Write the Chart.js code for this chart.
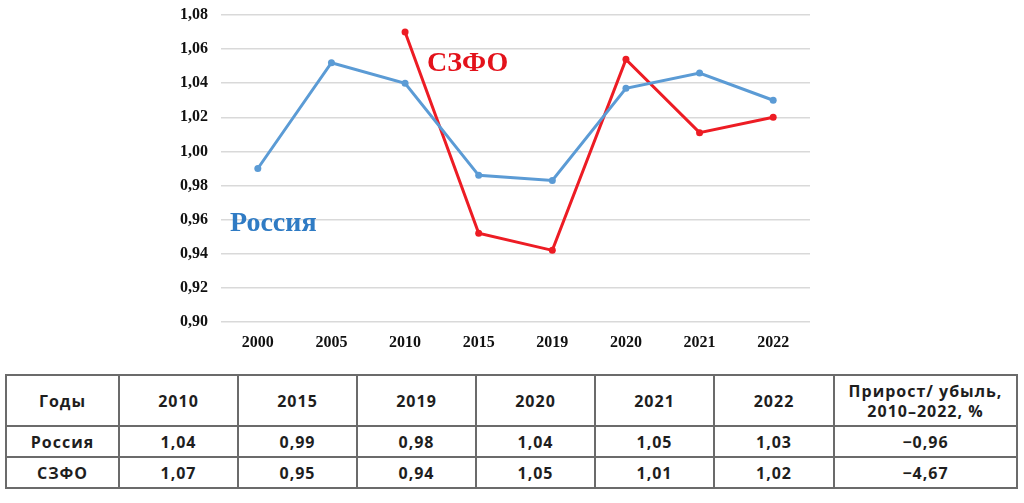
<!DOCTYPE html>
<html>
<head>
<meta charset="utf-8">
<script src="https://cdn.jsdelivr.net/npm/chart.js@4.4.0/dist/chart.umd.min.js"></script>
<style>
  html, body { margin: 0; padding: 0; background: #fff; }
  body { width: 1024px; height: 503px; position: relative; overflow: hidden; }
  #wrap { position: absolute; left: 0; top: 0; width: 1024px; height: 362px; }
  table {
    position: absolute; left: 5px; top: 374px; width: 1011px;
    border-collapse: collapse; table-layout: fixed;
    font-family: "Open Sans", "Noto Sans", sans-serif; font-weight: 700;
    font-size: 16px; color: #1e1e1e; letter-spacing: 1px;
  }
  td { border: 2px solid #6b6b6b; text-align: center; padding: 0; }
  tr.head td { height: 49px; line-height: 20px; }
  tr.row td { height: 29px; }
</style>
</head>
<body>
<div id="wrap"><canvas id="c"></canvas></div>
<table id="tbl"></table>
<script>
// chart data
var years = ["2000", "2005", "2010", "2015", "2019", "2020", "2021", "2022"];
var russia = [0.990, 1.052, 1.040, 0.986, 0.983, 1.037, 1.046, 1.030];
var szfo = [null, null, 1.070, 0.952, 0.942, 1.054, 1.011, 1.020];
var yTicks = [0.90, 0.92, 0.94, 0.96, 0.98, 1.00, 1.02, 1.04, 1.06, 1.08];

// table data
var tableYears = ["2010", "2015", "2019", "2020", "2021", "2022"];
var tableRussia = ["1,04", "0,99", "0,98", "1,04", "1,05", "1,03", "−0,96"];
var tableSzfo = ["1,07", "0,95", "0,94", "1,05", "1,01", "1,02", "−4,67"];

var blue = "#5b9bd5", red = "#ed1c24";

// build table
var colW = [113, 119, 119, 119, 119, 119, 120, 183];
var html = "<colgroup>" + colW.map(function (w) { return '<col style="width:' + w + 'px">'; }).join("") + "</colgroup>";
html += '<tr class="head"><td>Годы</td>' + tableYears.map(function (y) { return "<td>" + y + "</td>"; }).join("") +
  "<td>Прирост/ убыль,<br>2010–2022, %</td></tr>";
html += '<tr class="row"><td>Россия</td>' + tableRussia.map(function (v) { return "<td>" + v + "</td>"; }).join("") + "</tr>";
html += '<tr class="row"><td>СЗФО</td>' + tableSzfo.map(function (v) { return "<td>" + v + "</td>"; }).join("") + "</tr>";
document.getElementById("tbl").innerHTML = html;

// series name labels drawn on the chart
var seriesLabels = {
  id: "seriesLabels",
  afterDatasetsDraw: function (chart) {
    var ctx = chart.ctx;
    ctx.save();
    ctx.font = "bold 28px 'Liberation Serif', 'Times New Roman', serif";
    ctx.textBaseline = "alphabetic";
    ctx.textAlign = "left";
    ctx.fillStyle = "#e3121b";
    ctx.fillText("СЗФО", 427, 71);
    ctx.fillStyle = "#2f7bc4";
    ctx.fillText("Россия", 230, 231);
    ctx.restore();
  }
};

var serif = "'Liberation Serif', 'Times New Roman', serif";

new Chart(document.getElementById("c"), {
  type: "line",
  data: {
    labels: years,
    datasets: [
      {
        label: "Россия", data: russia, borderColor: blue, backgroundColor: blue,
        borderWidth: 3, pointRadius: 3.5, pointBackgroundColor: blue, pointBorderWidth: 0, tension: 0
      },
      {
        label: "СЗФО", data: szfo, borderColor: red, backgroundColor: red,
        borderWidth: 3, pointRadius: 3.5, pointBackgroundColor: red, pointBorderWidth: 0, tension: 0
      }
    ]
  },
  options: {
    responsive: true, maintainAspectRatio: false, animation: false,
    layout: { padding: { left: 0, right: 214, top: 15, bottom: 0 } },
    plugins: { legend: { display: false }, tooltip: { enabled: false } },
    scales: {
      x: {
        offset: true,
        grid: { display: false, drawTicks: false },
        border: { display: false },
        ticks: { color: "#111", padding: 11, font: { family: serif, size: 16, weight: "bold" } },
        afterFit: function (s) { s.height = 40; s.paddingLeft = 0; s.paddingRight = 0; }
      },
      y: {
        min: 0.90, max: 1.08,
        afterBuildTicks: function (s) { s.ticks = yTicks.map(function (v) { return { value: v }; }); },
        grid: { color: "#d9d9d9", lineWidth: 1.5, drawTicks: false },
        border: { display: false },
        ticks: {
          color: "#111", padding: 13, font: { family: serif, size: 16, weight: "bold" },
          callback: function (v) { return v.toFixed(2).replace(".", ","); }
        },
        afterFit: function (s) { s.width = 221; s.paddingTop = 0; s.paddingBottom = 0; }
      }
    }
  },
  plugins: [seriesLabels]
});
</script>
</body>
</html>
